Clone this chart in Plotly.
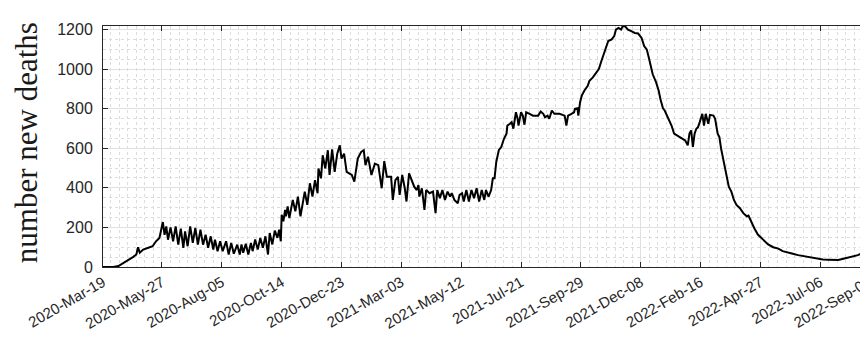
import pandas as pd
import plotly.graph_objects as go

start_date = "2020-03-19"

# days since 2020-03-19
day_offsets = [
    0, 12, 18, 23, 29, 35, 39, 41, 43, 47, 53, 58, 62, 66, 70, 72, 74, 76, 79, 82,
    85, 88, 91, 94, 96, 99, 102, 105, 108, 111, 114, 117, 120, 123, 126, 129, 131, 134, 137, 140,
    144, 147, 150, 153, 157, 160,
    162, 164, 167, 170, 173, 175, 178, 181, 184, 187, 190, 193, 195, 198, 201, 204, 206, 208, 209, 211,
    213, 214, 216, 218, 222, 225, 228, 231, 236, 239, 242, 245, 248, 251, 252, 255, 257, 260, 263, 265,
    268, 271, 274, 277, 279, 282, 285, 291, 294, 298, 302, 305, 307, 310, 314, 318,
    322, 326, 329, 332, 337, 339, 342, 345, 347, 350, 353, 355, 358, 361, 364, 367, 369, 370, 373, 376,
    378, 382, 386, 389, 391, 394, 397, 400, 403, 406, 408, 411, 415, 417, 420, 422, 425, 428, 431, 434,
    437, 440, 443, 446, 448, 451, 454, 456, 458, 460, 463, 466, 469, 472,
    473, 476, 478, 480, 482, 483, 485, 486, 489, 491, 493, 495, 499, 503, 509, 512, 515, 517, 520, 522,
    525, 528, 534, 540, 542, 544, 548, 551, 552, 555, 556, 558, 560, 563, 567, 569, 573, 577, 580, 583,
    585, 587, 589, 591, 595, 598, 600, 603, 606, 608, 611, 614,
    618, 622, 626, 630, 633, 636, 638, 641, 643, 647, 650, 652, 655, 657, 660, 663, 665, 668, 671, 675,
    678, 681, 684, 686, 688, 690, 692, 694, 696, 698, 701, 703, 705, 708, 710, 714, 716, 719, 721, 723,
    726, 729, 732, 735, 738, 741, 745, 749, 753,
    755, 758, 762, 766, 770, 774, 778, 784, 790, 795, 801, 807, 813, 819, 825, 831, 836, 842, 848, 854,
    860, 866, 872, 877, 883, 889, 893, 896,
]

new_deaths = [
    0, 0, 5, 17, 33, 50, 63, 100, 72, 88, 97, 105, 130, 147, 227, 163, 205, 138, 200, 130,
    205, 113, 194, 97, 180, 105, 205, 122, 197, 113, 189, 113, 163, 97, 155, 88, 138, 80, 130, 80,
    130, 63, 122, 67, 113, 63,
    114, 72, 117, 63, 122, 80, 139, 88, 147, 97, 155, 63, 172, 114, 184, 147, 189, 130, 264, 231,
    289, 256, 306, 247, 339, 281, 356, 256, 381, 314, 423, 356, 439, 373, 498, 448, 565, 498, 590, 465,
    595, 481, 573, 615, 548, 573, 481, 465, 431, 548, 582, 590, 515, 557, 465, 523,
    515, 398, 535, 456, 456, 339, 439, 456, 364, 465, 398, 331, 473, 439, 406, 389, 414, 356, 398, 289,
    389, 373, 381, 272, 389, 348, 389, 339, 381, 356, 373, 339, 322, 364, 373, 331, 389, 331, 389, 348,
    398, 331, 389, 339, 389, 356, 389, 448, 448, 531, 590, 607, 648, 674,
    715, 724, 732, 699, 765, 782, 749, 715, 782, 765, 719, 782, 774, 765, 765, 786, 774, 757, 765, 749,
    791, 774, 774, 765, 715, 765, 774, 782, 799, 802, 765, 832, 866, 891, 916, 941, 958, 983, 1000, 1041,
    1066, 1100, 1125, 1142, 1150, 1167, 1200, 1208, 1200, 1218, 1215, 1200,
    1192, 1183, 1180, 1158, 1117, 1100, 1066, 1000, 974, 933, 891, 849, 802, 791, 765, 740, 715, 674, 665, 657,
    648, 640, 615, 674, 690, 607, 674, 699, 707, 732, 774, 715, 774, 724, 769, 765, 749, 674, 657, 598,
    531, 481, 406, 381, 339, 314, 297, 272, 256,
    260, 231, 195, 164, 147, 130, 114, 100, 93, 80, 75, 67, 60, 55, 52, 47, 42, 38, 37, 35,
    35, 42, 47, 53, 60, 72, 83, 88,
]

tick_dates = [
    "2020-03-19", "2020-05-27", "2020-08-05", "2020-10-14", "2020-12-23",
    "2021-03-03", "2021-05-12", "2021-07-21", "2021-09-29", "2021-12-08",
    "2022-02-16", "2022-04-27", "2022-07-06", "2022-09-01",
]
y_ticks = [0, 200, 400, 600, 800, 1000, 1200]
y_label = "number new deaths"

dates = pd.Timestamp(start_date) + pd.to_timedelta(day_offsets, unit="D")

fig = go.Figure()
fig.add_trace(go.Scatter(
    x=dates, y=new_deaths, mode="lines",
    line=dict(color="black", width=2),
    showlegend=False,
))

axis_color = "#262626"
major_grid = "#e0e0e0"
minor_grid = "#dcdcdc"

fig.update_xaxes(
    range=[tick_dates[0], tick_dates[-1]],
    tickmode="array", tickvals=tick_dates, tickformat="%Y-%b-%d",
    tickangle=-30,
    showline=True, linecolor=axis_color, linewidth=1, mirror="ticks",
    ticks="inside", ticklen=5, tickcolor=axis_color, tickwidth=1,
    showgrid=True, gridcolor=major_grid, gridwidth=1,
    minor=dict(tickmode="linear", tick0="2020-05-27", dtick=10 * 86400000,
               showgrid=True, gridcolor=minor_grid, griddash="dot", gridwidth=1, ticks=""),
    tickfont=dict(family="Liberation Sans, Arial, sans-serif", size=15, color=axis_color),
    zeroline=False,
)
fig.update_yaxes(
    range=[0, 1218],
    tickmode="array", tickvals=y_ticks, ticklabelstandoff=6,
    showline=True, linecolor=axis_color, linewidth=1, mirror="ticks",
    ticks="inside", ticklen=5, tickcolor=axis_color, tickwidth=1,
    showgrid=True, gridcolor=major_grid, gridwidth=1,
    minor=dict(tickmode="linear", tick0=0, dtick=50,
               showgrid=True, gridcolor=minor_grid, griddash="dot", gridwidth=1, ticks=""),
    tickfont=dict(family="Liberation Sans, Arial, sans-serif", size=16, color=axis_color),
    zeroline=False,
)

fig.add_annotation(
    text=y_label, xref="paper", yref="paper",
    x=-0.123, y=0.515, xanchor="left", yanchor="middle",
    textangle=-90, showarrow=False, borderpad=0,
    font=dict(family="Liberation Serif, Times New Roman, serif", size=31, color="#1a1a1a"),
)

fig.update_layout(
    width=868, height=340,
    margin=dict(l=95, r=7, t=18, b=81, autoexpand=False),
    paper_bgcolor="white", plot_bgcolor="white",
)

fig.write_html("out.html")
